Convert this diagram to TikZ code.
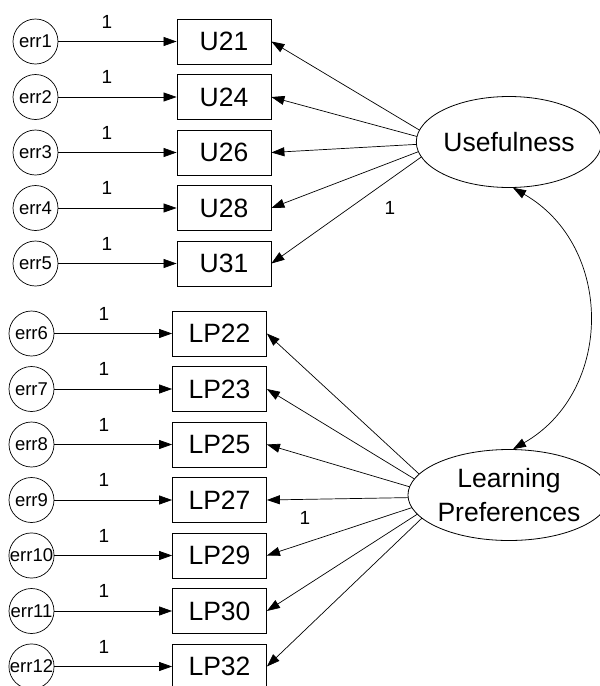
\documentclass[tikz,border=0pt]{standalone}
\usepackage{fontspec}
\setmainfont{Liberation Sans}
\usetikzlibrary{shapes.geometric,arrows.meta}

\begin{document}
\begin{tikzpicture}[x=1pt,y=-1pt,
  obs/.style={draw, line width=0.8pt, minimum width=94pt, minimum height=45pt,
    inner sep=0pt, font=\fontsize{26.5}{28}\selectfont},
  errc/.style={draw, circle, line width=0.7pt, minimum size=45pt, inner sep=0pt,
    font=\fontsize{18.5}{20}\selectfont},
  lat/.style={draw, ellipse, line width=0.8pt, minimum width=180pt, minimum height=91pt,
    inner sep=0pt, fill=white, align=center, font=\fontsize{26.5}{34}\selectfont},
  reg/.style={-{Triangle[length=13pt,width=9pt]}, line width=0.7pt},
  cov/.style={{Triangle[length=13pt,width=9pt]}-{Triangle[length=13pt,width=9pt]}, line width=0.7pt},
  one/.style={inner sep=0pt, font=\fontsize{19}{20}\selectfont}
]
\useasboundingbox (0,0) rectangle (600,686);
\clip (0,0) rectangle (600,686);

% Usefulness indicators with their error terms
\foreach \n/\y [count=\i] in {U21/41.5, U24/97, U26/152.5, U28/208, U31/263.5} {
  \node[obs] (\n) at (224,\y) {\n};
  \node[errc] (e\i) at (35.5,\y) {err\i};
  \draw[reg] (e\i) -- (\n);
  \node[one] at (107,\y-20) {1};
}

% Learning Preferences indicators with their error terms
\foreach \n/\y [count=\i from 6] in {LP22/333.5, LP23/389, LP25/444.5, LP27/500, LP29/555.5, LP30/611, LP32/666.5} {
  \node[obs] (\n) at (219.5,\y) {\n};
  \node[errc] (e\i) at (31.5,\y) {err\i};
  \draw[reg] (e\i) -- (\n);
  \node[one] at (104,\y-20) {1};
}

% factor loadings, started inside each latent and covered by its ellipse
\coordinate (uf) at (441,143);
\coordinate (lf) at (444,497);
\foreach \n in {U21,U24,U26,U28,U31}
  \draw[reg] (uf) -- (\n.east);
\foreach \n in {LP22,LP23,LP25,LP27,LP29,LP30,LP32}
  \draw[reg] (lf) -- (\n.east);

% latent variables
\node[lat] (U) at (509,142) {Usefulness};
\node[lat] (LP) at (509,495) {Learning\\Preferences};

% fixed loadings
\node[one] at (390,208) {1};
\node[one] at (305,518) {1};

% covariance between the two factors
\draw[cov] (U.-85) .. controls +(101,58) and +(101,-58) .. (LP.85);
\end{tikzpicture}
\end{document}
